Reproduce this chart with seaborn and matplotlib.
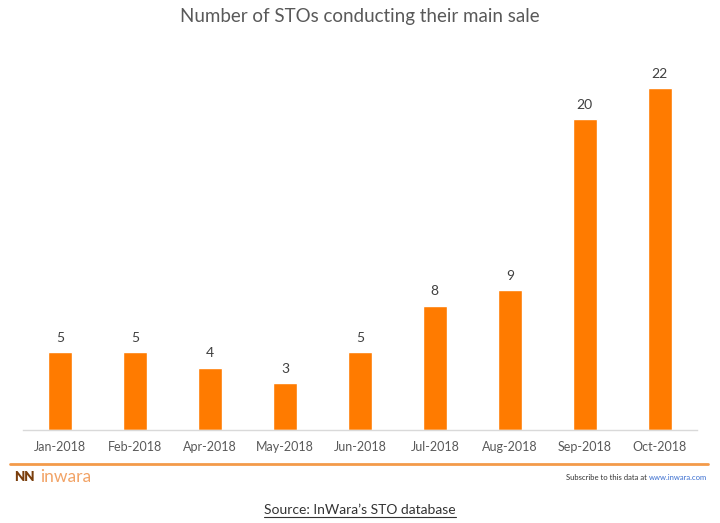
import matplotlib
matplotlib.use("Agg")
import matplotlib.pyplot as plt
import seaborn as sns
import pandas as pd
from matplotlib.lines import Line2D

months = ["Jan-2018", "Feb-2018", "Apr-2018", "May-2018", "Jun-2018",
          "Jul-2018", "Aug-2018", "Sep-2018", "Oct-2018"]
sto_counts = [5, 5, 4, 3, 5, 8, 9, 20, 22]

title = "Number of STOs conducting their main sale"
source = "Source: InWara\u2019s STO database"

sns.set_theme(style="white")
plt.rcParams["font.family"] = ["Lato", "DejaVu Sans"]

orange = "#FF7B00"
grey = "#595959"

df = pd.DataFrame({"month": months, "count": sto_counts})

fig = plt.figure(figsize=(7.2, 5.23), dpi=100)
ax = fig.add_axes([0.0313, 0.1778, 0.937, 0.713])

sns.barplot(data=df, x="month", y="count", color=orange, width=0.32,
            saturation=1, ax=ax)

for i, v in enumerate(sto_counts):
    ax.text(i, v + 0.55, str(v), ha="center", va="bottom",
            fontsize=10, color="#404040")

ax.set_ylim(0, 24)
ax.set_xlim(-0.5, len(months) - 0.5)
ax.set_xlabel("")
ax.set_ylabel("")
ax.set_yticks([])
ax.tick_params(axis="x", length=0, pad=8, labelsize=9, labelcolor=grey)
for s in ["top", "right", "left"]:
    ax.spines[s].set_visible(False)
ax.spines["bottom"].set_color("#D9D9D9")
ax.spines["bottom"].set_linewidth(1)

fig.text(0.5, 0.968, title, ha="center", va="center", fontsize=13.5, color=grey)

# footer band
fig.add_artist(Line2D([0.014, 0.984], [0.113, 0.113], color="#F39A4A", lw=2))
fig.text(0.020, 0.087, "NN", ha="left", va="center", fontsize=9.5,
         weight="heavy", color="#7A3E0C")
fig.text(0.056, 0.087, "inwara", ha="left", va="center", fontsize=12.5,
         color="#F2A366")
fig.text(0.898, 0.087, "Subscribe to this data at", ha="right", va="center",
         fontsize=5.5, color="#333333")
fig.text(0.901, 0.087, "www.inwara.com", ha="left", va="center",
         fontsize=5.5, color="#3B6FD0")

src = fig.text(0.5, 0.025, source, ha="center", va="center", fontsize=10,
               color="#333333")
fig.canvas.draw()
bb = src.get_window_extent().transformed(fig.transFigure.inverted())
fig.add_artist(Line2D([bb.x0, bb.x1], [bb.y0 - 0.002, bb.y0 - 0.002],
                      color="#333333", lw=0.8))

fig.savefig("out.png", dpi=100)
